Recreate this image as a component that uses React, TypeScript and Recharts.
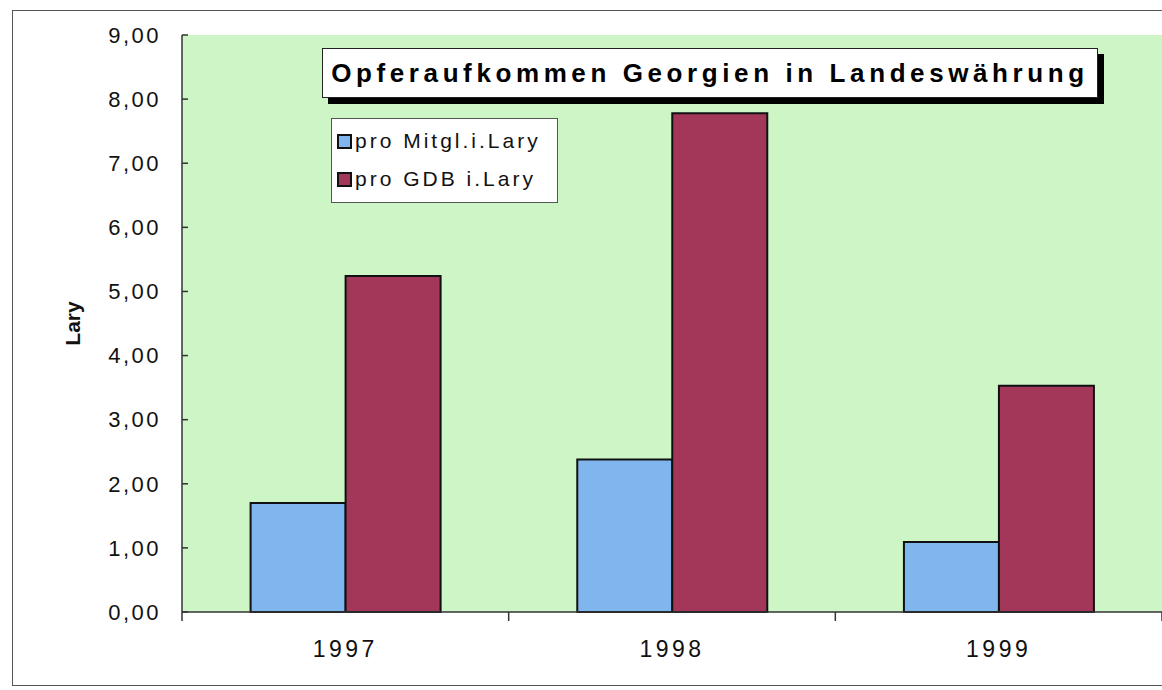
import { BarChart, Bar, XAxis, YAxis, CartesianGrid } from 'recharts';

const years = ['1997', '1998', '1999'];
const proMitgl = [1.7, 2.38, 1.09];
const proGdb = [5.24, 7.78, 3.53];
const yTicks = [0, 1, 2, 3, 4, 5, 6, 7, 8, 9];

const data = years.map((year, i) => ({ year, mitgl: proMitgl[i], gdb: proGdb[i] }));

const FONT = "Arial, 'Liberation Sans', sans-serif";
const PLOT_LEFT = 182;
const PLOT_RIGHT = 1162;
const BAND = (PLOT_RIGHT - PLOT_LEFT) / years.length;
const BLUE = '#7fb6ee';
const RED = '#a3375a';

const fmt = (v: number) => v.toFixed(2).replace('.', ',');

function YearTick(props: any) {
    const { x, y, payload, index } = props;
    return (
        <g>
            <line x1={x - BAND / 2} y1={y} x2={x - BAND / 2} y2={y + 9} stroke="#333" strokeWidth={1.5} />
            {index === years.length - 1 && (
                <line x1={x + BAND / 2} y1={y} x2={x + BAND / 2} y2={y + 9} stroke="#333" strokeWidth={1.5} />
            )}
            <text x={x} y={y + 45} textAnchor="middle" fontSize={23} letterSpacing={3.5} fontFamily={FONT} fill="#111">
                {payload.value}
            </text>
        </g>
    );
}

function LegendBox() {
    const items = [
        { label: 'pro Mitgl.i.Lary', color: BLUE },
        { label: 'pro GDB i.Lary', color: RED },
    ];
    return (
        <div
            style={{
                position: 'absolute',
                left: 331,
                top: 118,
                width: 227,
                height: 85,
                background: '#fff',
                border: '1.5px solid #555',
                boxSizing: 'border-box',
                padding: '3px 0 0 5px',
                fontFamily: FONT,
                fontSize: 21,
                letterSpacing: 3,
                color: '#111',
            }}
        >
            {items.map((it) => (
                <div key={it.label} style={{ display: 'flex', alignItems: 'center', height: 38, whiteSpace: 'nowrap' }}>
                    <span
                        style={{
                            display: 'inline-block',
                            width: 11,
                            height: 11,
                            background: it.color,
                            border: '2.5px solid #111',
                            marginRight: 3,
                        }}
                    />
                    {it.label}
                </div>
            ))}
        </div>
    );
}

export default function App() {
    return (
        <div style={{ position: 'absolute', left: 0, top: 0, width: 1162, height: 690, background: '#fff', overflow: 'hidden' }}>
            <div
                style={{
                    position: 'absolute',
                    left: 12,
                    top: 10,
                    width: 1170,
                    height: 676,
                    border: '1.5px solid #555',
                    boxSizing: 'border-box',
                }}
            />
            <BarChart
                width={1162}
                height={690}
                data={data}
                margin={{ top: 35, right: 0, bottom: 48, left: 0 }}
                barGap={0}
                barCategoryGap="21%"
                style={{ position: 'absolute', left: 0, top: 0 }}
            >
                <CartesianGrid fill="#cdf5c6" stroke="none" horizontal={false} vertical={false} />
                <XAxis
                    dataKey="year"
                    height={30}
                    tick={<YearTick />}
                    tickLine={false}
                    tickSize={0}
                    tickMargin={0}
                    axisLine={{ stroke: '#333', strokeWidth: 1.5 }}
                    interval={0}
                />
                <YAxis
                    width={PLOT_LEFT}
                    domain={[0, 9]}
                    ticks={yTicks}
                    tickFormatter={fmt}
                    tickSize={6}
                    tickMargin={15}
                    axisLine={{ stroke: '#333', strokeWidth: 1.5 }}
                    tickLine={{ stroke: '#333', strokeWidth: 1.5, transform: 'translate(6,0)' }}
                    tick={{ fontSize: 22, letterSpacing: 2.5, fontFamily: FONT, fill: '#111' }}
                    label={{
                        content: ({ viewBox }: any) => (
                            <text
                                x={72}
                                y={viewBox.y + viewBox.height / 2}
                                transform={`rotate(-90, 72, ${viewBox.y + viewBox.height / 2})`}
                                textAnchor="middle"
                                dominantBaseline="central"
                                fontSize={21}
                                fontWeight="bold"
                                fontFamily={FONT}
                                fill="#111"
                            >
                                Lary
                            </text>
                        ),
                    }}
                />
                <Bar dataKey="mitgl" name="pro Mitgl.i.Lary" fill={BLUE} stroke="#111" strokeWidth={2} isAnimationActive={false} />
                <Bar dataKey="gdb" name="pro GDB i.Lary" fill={RED} stroke="#111" strokeWidth={2} isAnimationActive={false} />
            </BarChart>
            <LegendBox />
            <div
                style={{
                    position: 'absolute',
                    left: 322,
                    top: 48,
                    width: 776,
                    height: 50,
                    background: '#fff',
                    border: '1.5px solid #222',
                    boxShadow: '6px 6px 0 #000',
                    boxSizing: 'border-box',
                    display: 'flex',
                    alignItems: 'center',
                    justifyContent: 'center',
                    fontFamily: FONT,
                    fontWeight: 'bold',
                    fontSize: 26,
                    letterSpacing: 4.6,
                    color: '#000',
                    whiteSpace: 'nowrap',
                }}
            >
                Opferaufkommen Georgien in Landeswährung
            </div>
        </div>
    );
}
